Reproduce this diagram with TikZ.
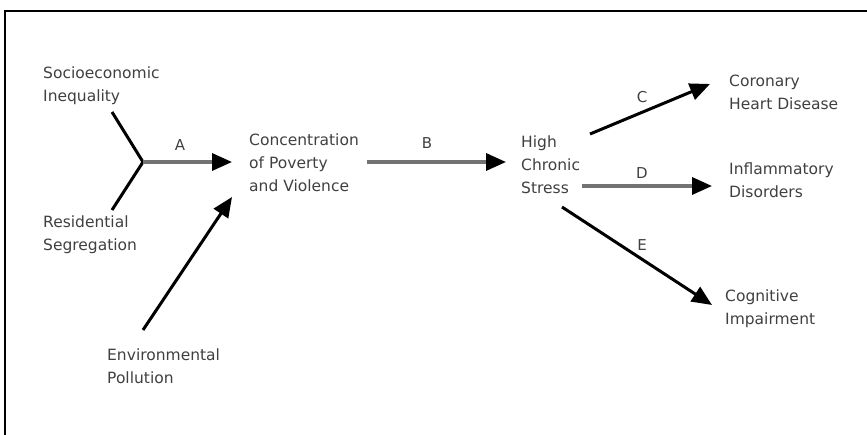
\documentclass[tikz,border=0pt]{standalone}
\usepackage{fontspec}
\setmainfont{DejaVu Sans}
\usetikzlibrary{arrows.meta}
\begin{document}
\begin{tikzpicture}[x=1pt,y=-1pt,
  lbl/.style={anchor=west,align=left,inner sep=0pt,font=\fontsize{15.5}{23}\selectfont,text=black!75},
  letter/.style={inner sep=0pt,font=\fontsize{15}{18}\selectfont,text=black!75},
  darr/.style={line width=3pt,-{Triangle[length=20pt,width=17pt]}},
  harr/.style={line width=3.4pt,draw=black!55,-{Triangle[length=20pt,width=17pt,color=black]}},
  plain/.style={line width=3pt}
]
\useasboundingbox (0,0) rectangle (867,435);
\draw[line width=2pt] (5,435) -- (5,11) -- (867,11);

\node[lbl] (soc) at (43,86) {Socioeconomic\\Inequality};
\node[lbl] (res) at (43,235) {Residential\\Segregation};
\node[lbl] (env) at (107,366) {Environmental\\Pollution};
\node[lbl] (cpv) at (249,163) {Concentration\\of Poverty\\and Violence};
\node[lbl] (hcs) at (521,165) {High\\Chronic\\Stress};
\node[lbl] (chd) at (729,92) {Coronary\\Heart Disease};
\node[lbl] (inf) at (729,180) {Inflammatory\\Disorders};
\node[lbl] (cog) at (725,309) {Cognitive\\Impairment};

\coordinate (fork) at (143,162);
\coordinate (s1) at (112,112);
\coordinate (r1) at (112,210);
\coordinate (e1) at (143,330);
\coordinate (aT) at (232,162);
\coordinate (eT1) at (232,197);
\coordinate (bS) at (367,162);
\coordinate (bT) at (506,162);
\coordinate (cS) at (590,134);
\coordinate (cT) at (710,84);
\coordinate (dS) at (582,186);
\coordinate (dT) at (712,186);
\coordinate (eS) at (562,207);
\coordinate (eT) at (712,305);

\draw[plain] (s1) -- (fork) -- (r1);
\draw[harr] (fork) -- (aT);
\draw[darr] (e1) -- (eT1);
\draw[harr] (bS) -- (bT);
\draw[darr] (cS) -- (cT);
\draw[harr] (dS) -- (dT);
\draw[darr] (eS) -- (eT);

\node[letter] (la) at (180,145) {A};
\node[letter] (lb) at (427,143) {B};
\node[letter] (lc) at (642,97) {C};
\node[letter] (ld) at (642,173) {D};
\node[letter] (le) at (642,245) {E};
\end{tikzpicture}
\end{document}
